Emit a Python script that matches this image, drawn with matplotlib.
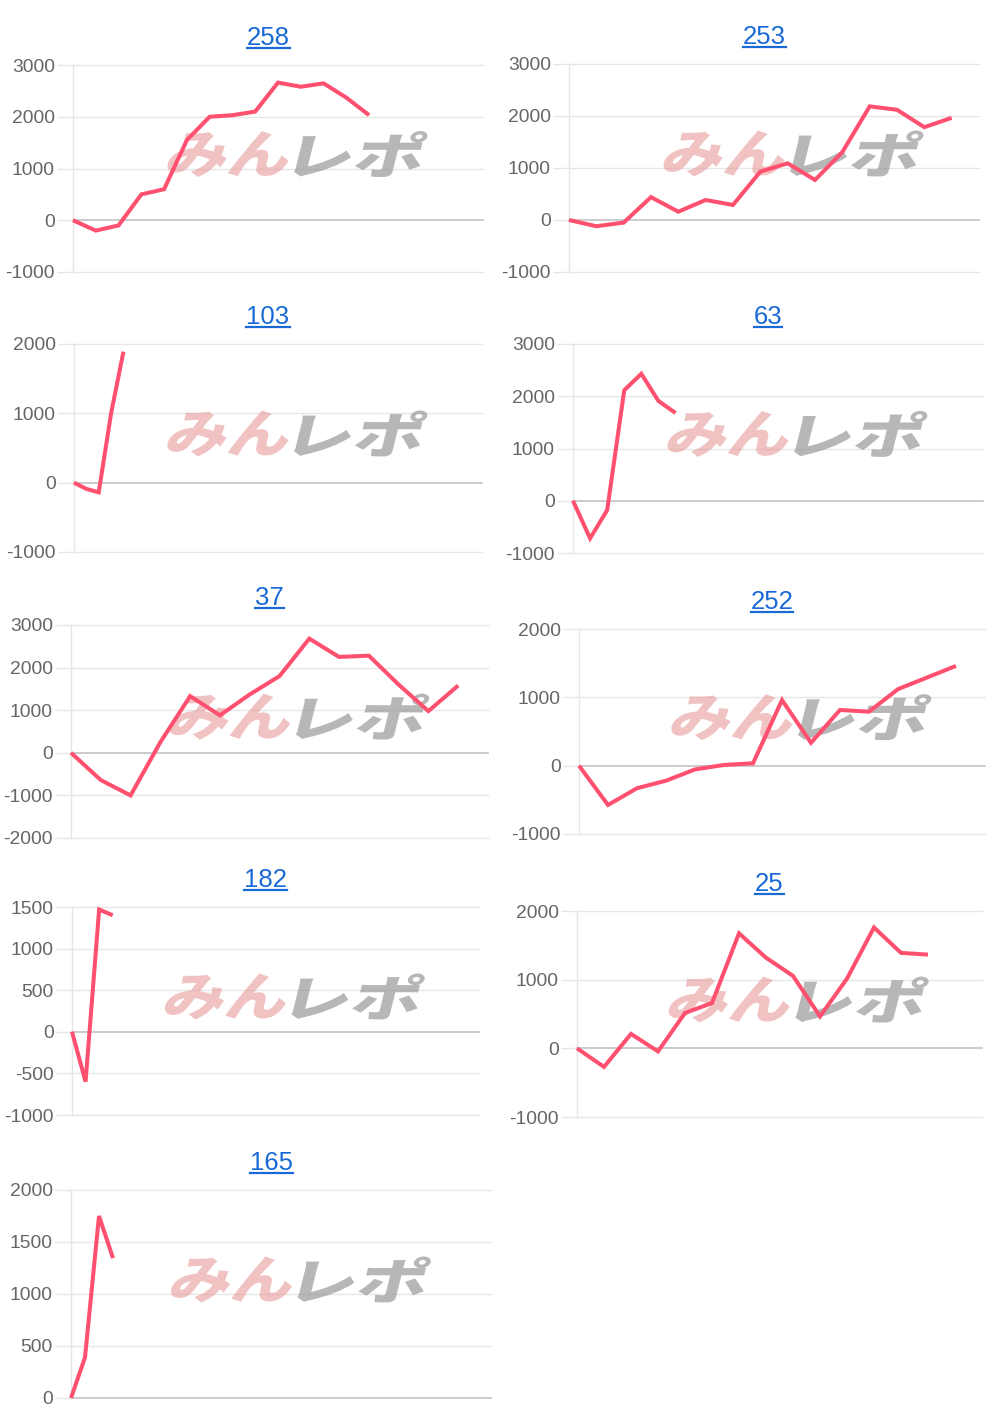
import numpy as np
import matplotlib
matplotlib.use("Agg")
import matplotlib.pyplot as plt
from matplotlib.textpath import TextPath
from matplotlib.patches import PathPatch
from matplotlib.font_manager import FontProperties
from matplotlib.transforms import Affine2D, IdentityTransform
from matplotlib.lines import Line2D

plt.rcParams['axes.unicode_minus'] = False
plt.rcParams['font.family'] = ['Liberation Sans', 'DejaVu Sans']

W, H = 1000, 1419

# chart data
titles = ["258", "253", "103", "63", "37", "252", "182", "25", "165"]
n_labels = [19, 16, 34, 25, 15, 15, 31, 16, 31]

v258 = [0, -200, -100, 500, 600, 1550, 2000, 2030, 2100, 2660, 2580, 2645, 2370, 2030]
v253 = [0, -120, -50, 440, 160, 385, 290, 930, 1090, 770, 1305, 2185, 2120, 1785, 1965]
v103 = [0, -90, -140, 1000, 1890]
v63 = [0, -720, -180, 2115, 2430, 1910, 1680]
v37 = [0, -640, -1000, 250, 1330, 880, 1370, 1800, 2680, 2250, 2280, 1600, 980, 1580]
v252 = [0, -575, -330, -220, -55, 10, 35, 960, 335, 815, 790, 1120, 1290, 1460]
v182 = [0, -600, 1470, 1400]
v25 = [0, -270, 210, -45, 515, 660, 1675, 1320, 1055, 465, 1015, 1760, 1390, 1365]
v165 = [0, 390, 1750, 1345]
series = [v258, v253, v103, v63, v37, v252, v182, v25, v165]

y_ranges = [(-1000, 3000, 1000), (-1000, 3000, 1000), (-1000, 2000, 1000),
            (-1000, 3000, 1000), (-2000, 3000, 1000), (-1000, 2000, 1000),
            (-1000, 1500, 500), (-1000, 2000, 1000), (0, 2000, 500)]

# plot areas in pixels: left, top, right, bottom
boxes = [(73, 65, 483, 272), (569, 64, 979, 272),
         (74, 344, 482, 552), (573, 344, 983, 553),
         (71, 625, 488, 838), (579, 629, 985, 834),
         (72, 907, 479, 1115), (577, 911, 982, 1117),
         (71, 1190, 491, 1398)]

LINE = '#ff5070'
GRID = '#e6e6e6'
ZERO = '#c2c2c2'
LINK = '#1a6ad6'

fig = plt.figure(figsize=(W / 100, H / 100), dpi=100)
wm_font = FontProperties(family='Noto Sans CJK JP', weight='black')


def watermark(ax, cx, cy):
    # pink "みん" + grey "レポ", skewed like the logo
    parts = [("みん", '#e89a9a', 0.6, cx - 126, 120),
             ("レポ", '#8c8c8c', 0.62, cx + 2, 125)]
    for txt, col, a, left, wdt in parts:
        tp = TextPath((0, 0), txt, size=50, prop=wm_font)
        ext = tp.get_extents()
        hgt = 46
        tr = (Affine2D().translate(-ext.x0, -ext.y0)
              .scale(wdt / ext.width, hgt / ext.height)
              .skew_deg(14, 0)
              .translate(left - 6, H - (cy + hgt / 2)))
        p = PathPatch(tr.transform_path(tp), facecolor=col, edgecolor='none',
                      alpha=a, transform=IdentityTransform(), zorder=2)
        ax.add_artist(p)


title_texts = []
for i, (l, t, r, b) in enumerate(boxes):
    ax = fig.add_axes([l / W, 1 - b / H, (r - l) / W, (b - t) / H])
    lo, hi, step = y_ranges[i]
    ticks = np.arange(lo, hi + step, step)
    ax.set_xlim(0, n_labels[i] - 1)
    ax.set_ylim(lo, hi)
    for s in ['top', 'right', 'bottom']:
        ax.spines[s].set_visible(False)
    ax.spines['left'].set_color(GRID)
    ax.spines['left'].set_linewidth(1)
    ax.spines['left'].set_zorder(0)
    ax.set_xticks([])
    ax.set_yticks(ticks)
    ax.set_yticklabels([str(int(v)) for v in ticks])
    ax.tick_params(axis='y', length=11.5, width=1, color=GRID, pad=1.5,
                   labelsize=13.9, labelcolor='#666666')
    for v, tk in zip(ticks, ax.yaxis.get_major_ticks()):
        if v == 0:
            tk.tick1line.set_color(ZERO)
    for v in ticks:
        ax.axhline(v, color=ZERO if v == 0 else GRID, lw=1.2 if v == 0 else 1,
                   zorder=1, clip_on=False)
    vals = series[i]
    ax.plot(np.arange(len(vals)), vals, color=LINE, lw=2.9,
            solid_joinstyle='miter', solid_capstyle='butt', zorder=3, clip_on=False)
    cx = l + 0.545 * (r - l)
    cy = t + 0.43 * (b - t)
    watermark(ax, cx, cy)
    tx = (l + r) / 2 - 10
    ty = t - 20
    tt = fig.text(tx / W, 1 - ty / H, titles[i], color=LINK, fontsize=18.5,
                  ha='center', va='baseline')
    title_texts.append((tt, ty))

fig.canvas.draw()
rend = fig.canvas.get_renderer()
for tt, ty in title_texts:
    bb = tt.get_window_extent(rend)
    yy = 1 - (ty + 3) / H
    fig.add_artist(Line2D([bb.x0 / W, bb.x1 / W], [yy, yy], color=LINK, lw=1.6,
                          transform=fig.transFigure))

fig.savefig('out.png', dpi=100, facecolor='white')
